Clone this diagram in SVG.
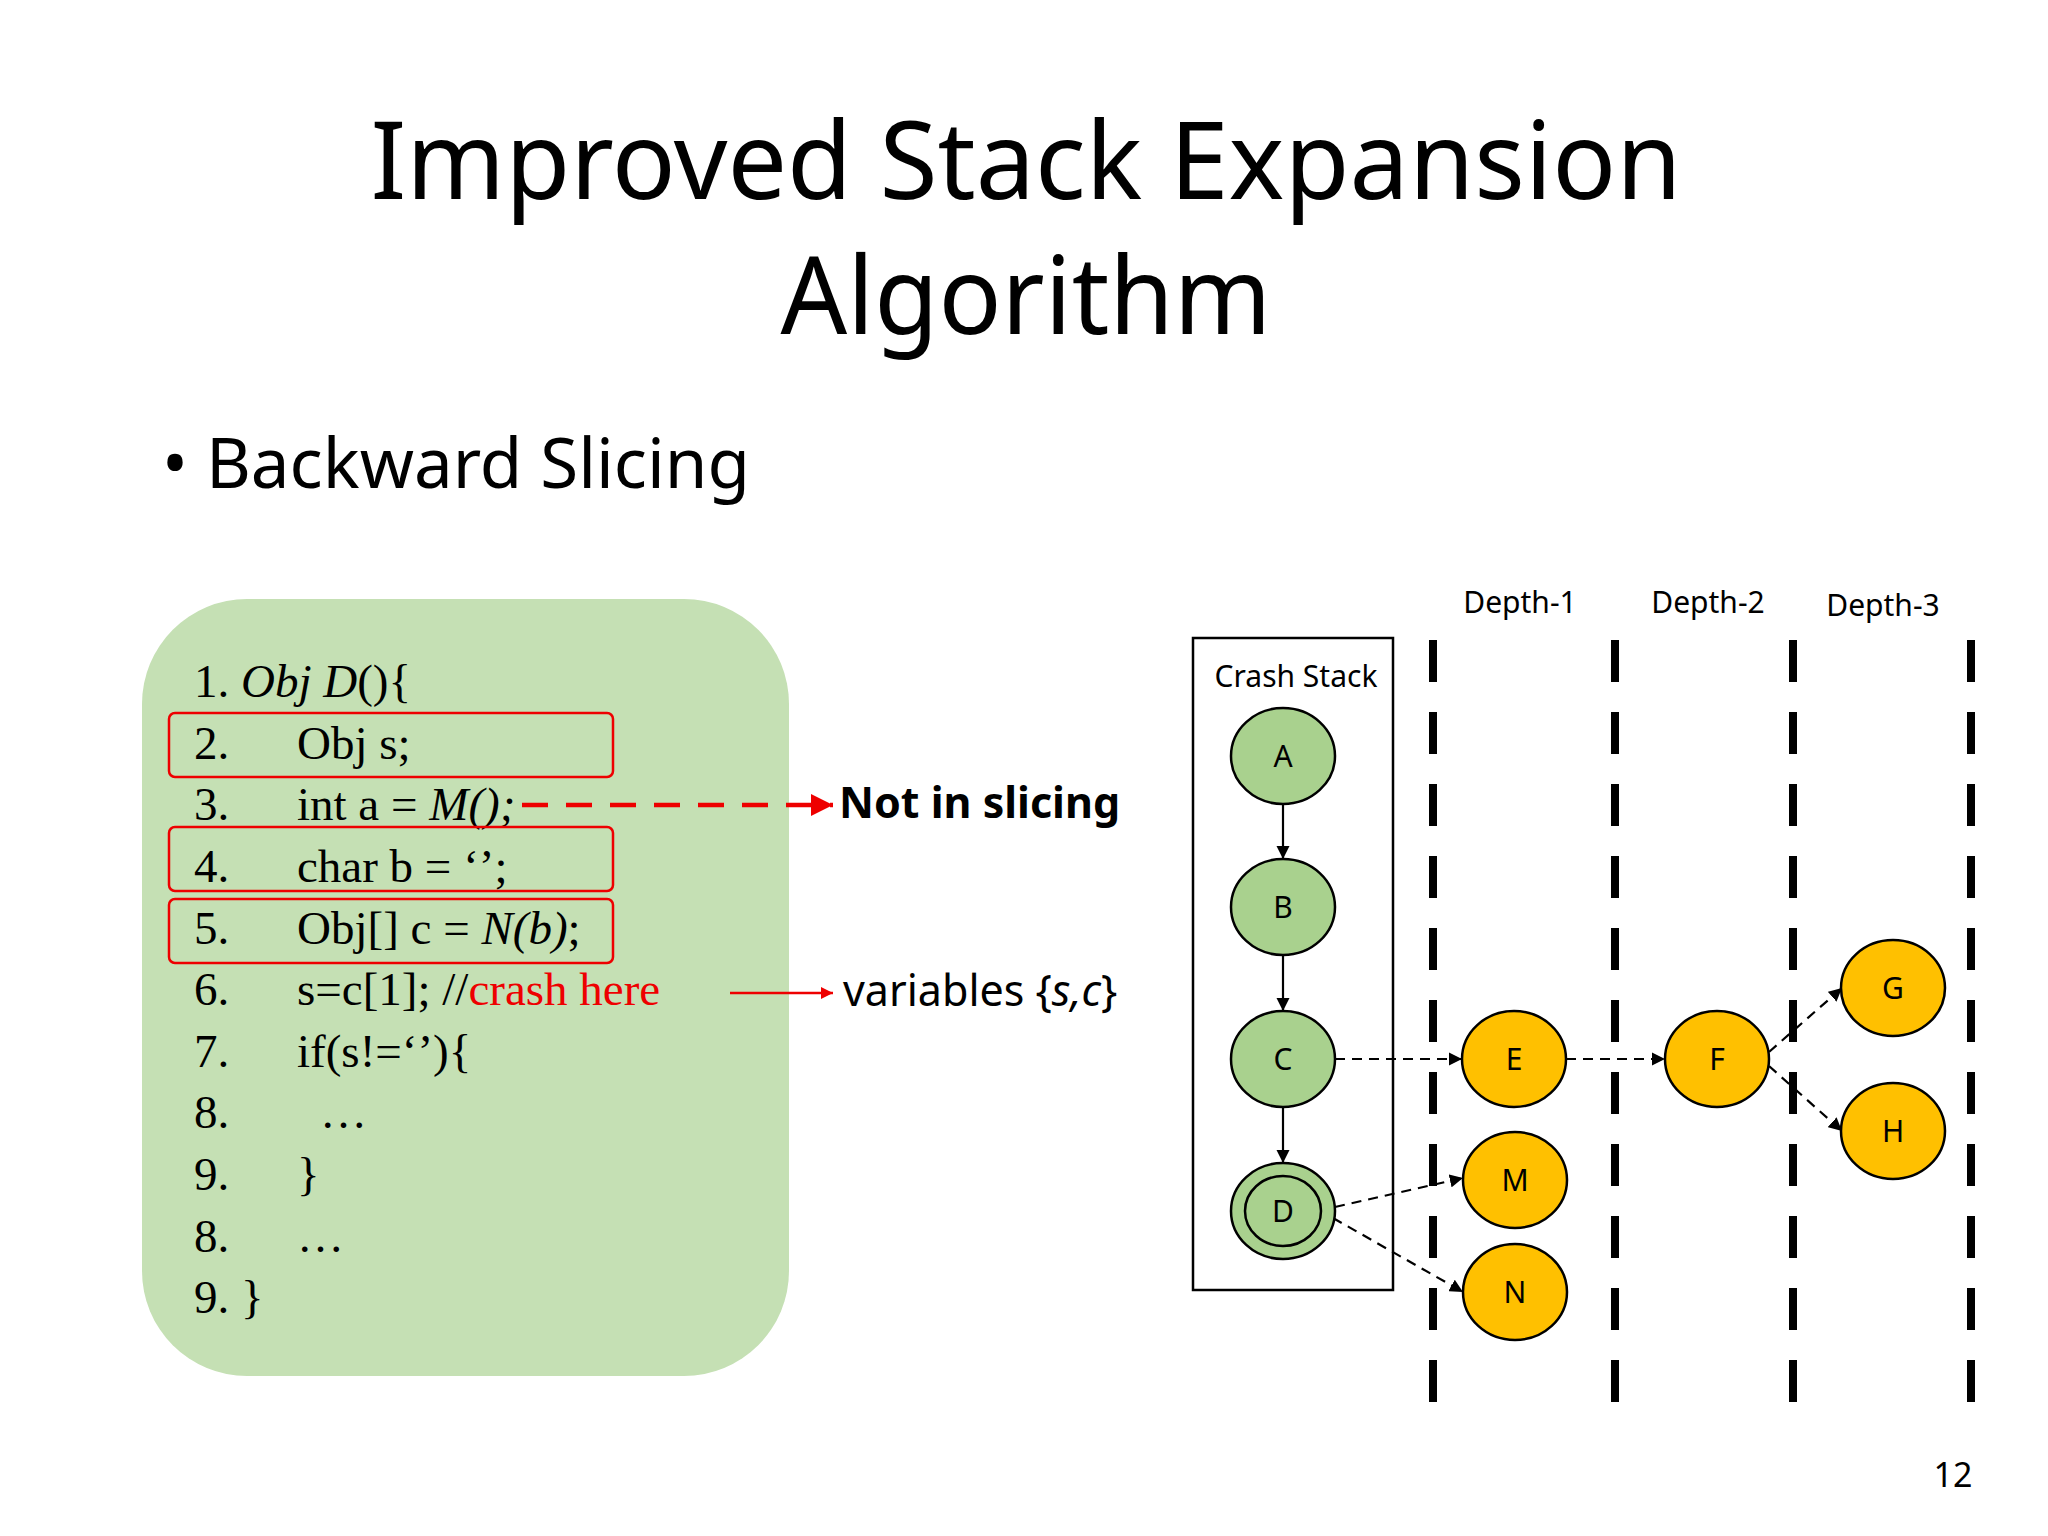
<svg xmlns="http://www.w3.org/2000/svg" width="2048" height="1536" viewBox="0 0 2048 1536">
<defs>
<marker id="ab" viewBox="0 0 10 10" refX="10" refY="5" markerWidth="6" markerHeight="6" orient="auto"><path d="M0,0L10,5L0,10z" fill="#000"/></marker>
<marker id="ar" viewBox="0 0 10 10" refX="10" refY="5" markerWidth="5" markerHeight="5" orient="auto"><path d="M0,0L10,5L0,10z" fill="#e00"/></marker>
<style>
.s{font-family:"Noto Sans","Open Sans",sans-serif}
.c{font-family:"Liberation Serif",serif;font-size:47px}
.rb{fill:none;stroke:#e00;stroke-width:2.5}
.g{fill:#a9d18e;stroke:#000;stroke-width:2.5}
.y{fill:#ffc000;stroke:#000;stroke-width:2.5}
.nl{font-family:"Noto Sans",sans-serif;font-size:30px;text-anchor:middle}
.dv{stroke:#000;stroke-width:8;stroke-dasharray:42 30}
</style>
</defs>
<rect width="2048" height="1536" fill="#fff"/>
<text class="s" x="1026" y="199" font-size="108" text-anchor="middle" textLength="1311" lengthAdjust="spacingAndGlyphs">Improved Stack Expansion</text>
<text class="s" x="1026" y="334" font-size="108" text-anchor="middle" textLength="491" lengthAdjust="spacingAndGlyphs">Algorithm</text>
<text class="s" x="162" y="488" font-size="70" textLength="588" lengthAdjust="spacingAndGlyphs">• Backward Slicing</text>
<g id="code">
<rect x="142" y="599" width="647" height="777" rx="105" fill="#c5e0b4"/>
<g class="c">
<text x="194" y="697">1. <tspan font-style="italic">Obj D</tspan>(){</text>
<text x="194" y="759">2.</text><text x="297" y="759">Obj s;</text>
<text x="194" y="820">3.</text><text x="297" y="820">int a = <tspan font-style="italic">M();</tspan></text>
<text x="194" y="882">4.</text><text x="297" y="882">char b = ‘’;</text>
<text x="194" y="944">5.</text><text x="297" y="944">Obj[] c = <tspan font-style="italic">N(b)</tspan>;</text>
<text x="194" y="1005">6.</text><text x="297" y="1005">s=c[1];    //<tspan fill="#e00">crash here</tspan></text>
<text x="194" y="1067">7.</text><text x="297" y="1067">if(s!=‘’){</text>
<text x="194" y="1128">8.</text><text x="320" y="1128">…</text>
<text x="194" y="1190">9.</text><text x="297" y="1190">}</text>
<text x="194" y="1252">8.</text><text x="297" y="1252">…</text>
<text x="194" y="1313">9. }</text>
</g>
<rect class="rb" x="169" y="713" width="444" height="64" rx="6"/>
<rect class="rb" x="169" y="827" width="444" height="64" rx="6"/>
<rect class="rb" x="169" y="899" width="444" height="64" rx="6"/>
</g>
<g id="notes">
<text class="s" x="839" y="818" font-size="43" font-weight="bold">Not in slicing</text>
<text class="s" x="843" y="1006" font-size="43">variables {<tspan font-style="italic">s,c</tspan>}</text>
</g>
<g id="stack">
<rect x="1193" y="638" width="200" height="652" fill="none" stroke="#000" stroke-width="2.5"/>
<text class="nl" x="1296" y="687" font-size="33">Crash Stack</text>
</g>
<g id="depth">
<line class="dv" x1="1433" y1="640" x2="1433" y2="1426"/>
<line class="dv" x1="1615" y1="640" x2="1615" y2="1426"/>
<line class="dv" x1="1793" y1="640" x2="1793" y2="1426"/>
<line class="dv" x1="1971" y1="640" x2="1971" y2="1426"/>
<text class="nl" x="1520" y="613" font-size="34">Depth-1</text>
<text class="nl" x="1708" y="613" font-size="34">Depth-2</text>
<text class="nl" x="1883" y="616" font-size="34">Depth-3</text>
</g>
<g id="connectors" fill="none">
<line x1="522" y1="805" x2="833" y2="805" stroke="#e00" stroke-width="4.5" stroke-dasharray="26 18" marker-end="url(#ar)"/>
<line x1="730" y1="993" x2="833" y2="993" stroke="#e00" stroke-width="2.5" marker-end="url(#ar)"/>
<g stroke="#000" stroke-width="2.2">
<line x1="1283" y1="804" x2="1283" y2="859" marker-end="url(#ab)"/>
<line x1="1283" y1="955" x2="1283" y2="1011" marker-end="url(#ab)"/>
<line x1="1283" y1="1107" x2="1283" y2="1163" marker-end="url(#ab)"/>
<g stroke-dasharray="10 7">
<line x1="1335" y1="1059" x2="1462" y2="1059" marker-end="url(#ab)"/>
<line x1="1566" y1="1059" x2="1665" y2="1059" marker-end="url(#ab)"/>
<line x1="1769" y1="1052" x2="1842" y2="988" marker-end="url(#ab)"/>
<line x1="1769" y1="1066" x2="1842" y2="1131" marker-end="url(#ab)"/>
<line x1="1335" y1="1207" x2="1463" y2="1178" marker-end="url(#ab)"/>
<line x1="1333" y1="1218" x2="1463" y2="1292" marker-end="url(#ab)"/>
</g>
</g>
</g>
<g id="A"><ellipse class="g" cx="1283" cy="756" rx="52" ry="48"/><text class="nl" x="1283" y="767">A</text></g>
<g id="B"><ellipse class="g" cx="1283" cy="907" rx="52" ry="48"/><text class="nl" x="1283" y="918">B</text></g>
<g id="C"><ellipse class="g" cx="1283" cy="1059" rx="52" ry="48"/><text class="nl" x="1283" y="1070">C</text></g>
<g id="D"><ellipse class="g" cx="1283" cy="1211" rx="52" ry="48"/><ellipse class="g" cx="1283" cy="1211" rx="38" ry="35"/><text class="nl" x="1283" y="1222">D</text></g>
<g id="E"><ellipse class="y" cx="1514" cy="1059" rx="52" ry="48"/><text class="nl" x="1514" y="1070">E</text></g>
<g id="F"><ellipse class="y" cx="1717" cy="1059" rx="52" ry="48"/><text class="nl" x="1717" y="1070">F</text></g>
<g id="G"><ellipse class="y" cx="1893" cy="988" rx="52" ry="48"/><text class="nl" x="1893" y="999">G</text></g>
<g id="H"><ellipse class="y" cx="1893" cy="1131" rx="52" ry="48"/><text class="nl" x="1893" y="1142">H</text></g>
<g id="M"><ellipse class="y" cx="1515" cy="1180" rx="52" ry="48"/><text class="nl" x="1515" y="1191">M</text></g>
<g id="N"><ellipse class="y" cx="1515" cy="1292" rx="52" ry="48"/><text class="nl" x="1515" y="1303">N</text></g>
<text class="s" x="1953" y="1487" font-size="34" text-anchor="middle">12</text>
</svg>
